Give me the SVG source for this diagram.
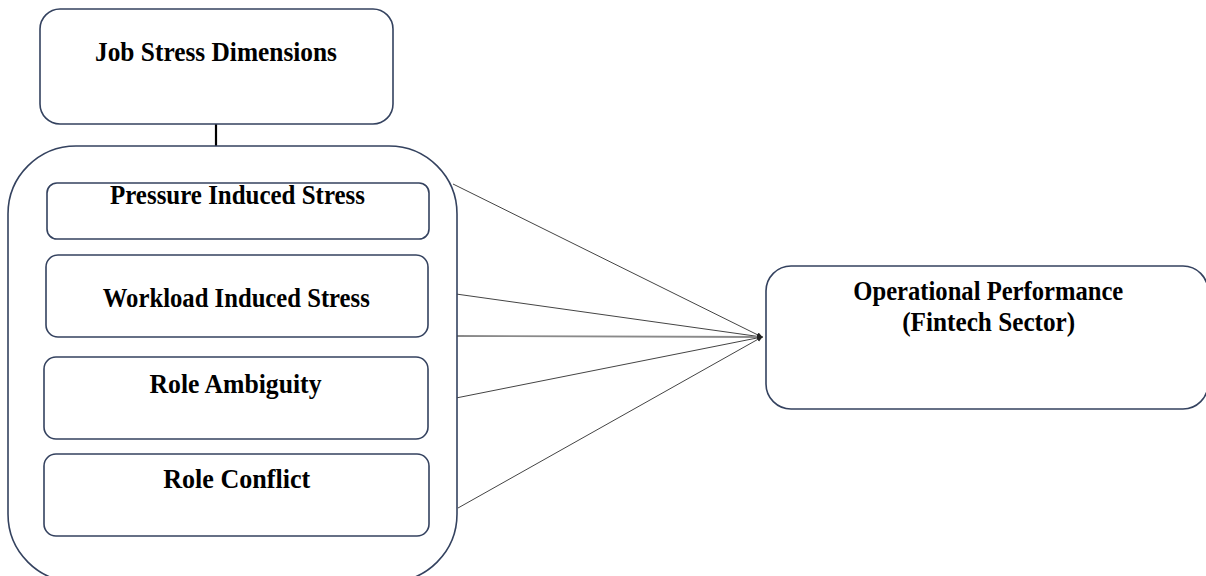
<svg xmlns="http://www.w3.org/2000/svg" width="1206" height="576" viewBox="0 0 1206 576">
<style>
.box{fill:#fff;stroke:#34425f;stroke-width:1.6}
.lbl{font-family:"Liberation Serif","Times New Roman",serif;font-weight:bold;font-size:26.5px;fill:#000;text-anchor:middle}
.cn{stroke:#444;stroke-width:1;fill:none}
.cn-mid{stroke:#8a8a8a;stroke-width:1.8;fill:none}
</style>
<defs>
<marker id="ah" markerWidth="6" markerHeight="6" refX="5" refY="3" orient="auto" markerUnits="userSpaceOnUse">
<path d="M0,0.5 L6,3 L0,5.5 Z" fill="#222"/>
</marker>
</defs>
<rect width="1206" height="576" fill="#fff"/>
<g id="connectors">
<line x1="216" y1="124" x2="216" y2="146" stroke="#000" stroke-width="2.2"/>
<line class="cn" x1="453" y1="184" x2="762" y2="337" marker-end="url(#ah)"/>
<line class="cn" x1="456" y1="294" x2="762" y2="337" marker-end="url(#ah)"/>
<line class="cn-mid" x1="457" y1="336" x2="762" y2="337" marker-end="url(#ah)"/>
<line class="cn" x1="456" y1="398" x2="762" y2="337" marker-end="url(#ah)"/>
<line class="cn" x1="458" y1="508" x2="762" y2="337" marker-end="url(#ah)"/>
</g>
<g id="job-stress-dimensions">
<rect class="box" x="40" y="9" width="353" height="115" rx="20"/>
<text class="lbl" x="216" y="61" textLength="242" lengthAdjust="spacingAndGlyphs">Job Stress Dimensions</text>
</g>
<g id="dimensions-container">
<rect class="box" x="8" y="146" width="449" height="436" rx="68"/>
</g>
<g id="pressure-induced-stress">
<rect class="box" x="47" y="183" width="382" height="56" rx="10"/>
<text class="lbl" x="237.5" y="204" textLength="255" lengthAdjust="spacingAndGlyphs">Pressure Induced Stress</text>
</g>
<g id="workload-induced-stress">
<rect class="box" x="46" y="255" width="382" height="82" rx="12"/>
<text class="lbl" x="236.3" y="307" textLength="267" lengthAdjust="spacingAndGlyphs">Workload Induced Stress</text>
</g>
<g id="role-ambiguity">
<rect class="box" x="44" y="357" width="384" height="82" rx="12"/>
<text class="lbl" x="235.5" y="393" textLength="172" lengthAdjust="spacingAndGlyphs">Role Ambiguity</text>
</g>
<g id="role-conflict">
<rect class="box" x="44" y="454" width="385" height="82" rx="12"/>
<text class="lbl" x="236.7" y="488" textLength="147" lengthAdjust="spacingAndGlyphs">Role Conflict</text>
</g>
<g id="operational-performance">
<rect class="box" x="766" y="266" width="442" height="143" rx="25"/>
<text class="lbl" x="988.3" y="300" textLength="270" lengthAdjust="spacingAndGlyphs">Operational Performance</text>
<text class="lbl" x="988.7" y="331" textLength="173" lengthAdjust="spacingAndGlyphs">(Fintech Sector)</text>
</g>
</svg>
